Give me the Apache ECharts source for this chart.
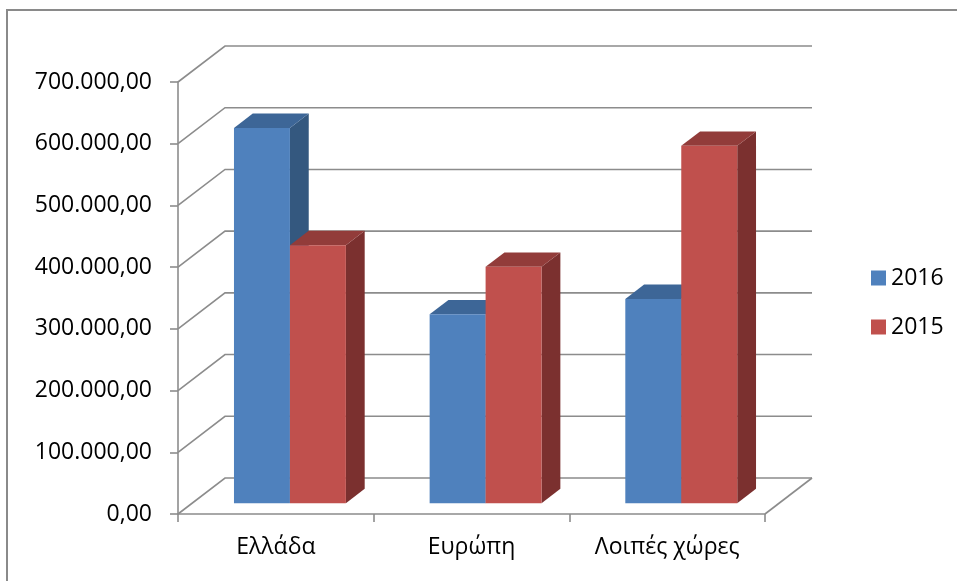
<!DOCTYPE html>
<html>
<head>
<meta charset="utf-8">
<script src="https://cdn.jsdelivr.net/npm/echarts@6/dist/echarts.min.js"></script>
<style>
  html, body { margin: 0; padding: 0; background: #fff; }
  #chart { width: 957px; height: 581px; }
</style>
</head>
<body>
<div id="chart"></div>
<script>
// Categories and series values
const categories = ['Ελλάδα', 'Ευρώπη', 'Λοιπές χώρες'];
const seriesNames = ['2016', '2015'];
const values2016 = [608000, 306000, 331000];
const values2015 = [418000, 383000, 579000];
const yTicks = [0, 100000, 200000, 300000, 400000, 500000, 600000, 700000];

// Oblique depth of the plot box (back plane offset from the front plane)
const DEPTH_X = 47;
const DEPTH_Y = -36;
// Bars occupy the middle of the depth
const BAR_FRONT = 0.3;
const BAR_BACK = 0.7;
const BAR_RATIO = 0.286;

const palette = [
  { front: '#4F81BD', top: '#3D6697', side: '#34587F' },
  { front: '#C0504D', top: '#923C3A', side: '#7B302F' }
];
const lineColor = '#8C8C8C';
const font = '"Open Sans", "Noto Sans", sans-serif';

function fmtNumber(v) {
  const s = Math.round(v).toString().replace(/\B(?=(\d{3})+(?!\d))/g, '.');
  return s + ',00';
}

// Back wall, side wall and floor outlines
function renderWalls(params, api) {
  const cs = params.coordSys;
  const v = api.value(0);
  const y = api.coord([0, v])[1];
  const x0 = cs.x;
  const x1 = cs.x + cs.width;
  const children = [{
    type: 'polyline',
    shape: { points: [[x0, y], [x0 + DEPTH_X, y + DEPTH_Y], [x1 + DEPTH_X, y + DEPTH_Y]] },
    style: { stroke: lineColor, lineWidth: 1.6, fill: null }
  }];
  if (v === 0) {
    children.push({
      type: 'line',
      shape: { x1: x1, y1: y, x2: x1 + DEPTH_X, y2: y + DEPTH_Y },
      style: { stroke: lineColor, lineWidth: 1.6 }
    });
  }
  return { type: 'group', children: children };
}

function makeBarRenderer(idx) {
  const col = palette[idx];
  return function (params, api) {
    const cat = api.value(0);
    const val = api.value(1);
    const top = api.coord([cat, val]);
    const base = api.coord([cat, 0]);
    const band = api.size([1, 0])[0];
    const bw = band * BAR_RATIO;
    const left = top[0] - bw + idx * bw;
    const fx = DEPTH_X * BAR_FRONT, fy = DEPTH_Y * BAR_FRONT;
    const bx = DEPTH_X * BAR_BACK, by = DEPTH_Y * BAR_BACK;
    const yT = top[1], yB = base[1];
    return {
      type: 'group',
      children: [
        {
          type: 'polygon',
          shape: { points: [
            [left + bw + fx, yT + fy], [left + bw + bx, yT + by],
            [left + bw + bx, yB + by], [left + bw + fx, yB + fy]
          ] },
          style: { fill: col.side }
        },
        {
          type: 'polygon',
          shape: { points: [
            [left + fx, yT + fy], [left + bw + fx, yT + fy],
            [left + bw + bx, yT + by], [left + bx, yT + by]
          ] },
          style: { fill: col.top }
        },
        {
          type: 'rect',
          shape: { x: left + fx, y: yT + fy, width: bw, height: yB - yT },
          style: { fill: col.front }
        }
      ]
    };
  };
}

const chart = echarts.init(document.getElementById('chart'), null, { renderer: 'canvas' });

chart.setOption({
  animation: false,
  backgroundColor: '#fff',
  graphic: [{
    type: 'rect',
    shape: { x: 7, y: 10, width: 980, height: 600 },
    style: { fill: null, stroke: '#8A8A8A', lineWidth: 2 },
    silent: true
  }],
  grid: { left: 178, top: 82, width: 587, height: 432 },
  legend: {
    orient: 'vertical',
    left: 866,
    top: 261,
    itemWidth: 15,
    itemHeight: 15,
    itemGap: 25,
    icon: 'rect',
    data: seriesNames,
    textStyle: { fontFamily: font, fontSize: 23, color: '#000', lineHeight: 24 }
  },
  xAxis: {
    type: 'category',
    data: categories,
    axisLine: { show: true, lineStyle: { color: lineColor, width: 1.6 } },
    axisTick: { show: true, length: 8, lineStyle: { color: lineColor, width: 1.6 } },
    axisLabel: { fontFamily: font, fontSize: 23, color: '#000', margin: 22 },
    splitLine: { show: false }
  },
  yAxis: {
    type: 'value',
    min: 0,
    max: 700000,
    interval: 100000,
    axisLine: { show: true, lineStyle: { color: lineColor, width: 1.6 } },
    axisTick: { show: true, length: 8, lineStyle: { color: lineColor, width: 1.6 } },
    axisLabel: { fontFamily: font, fontSize: 23, color: '#000', margin: 26, formatter: fmtNumber },
    splitLine: { show: false }
  },
  series: [
    {
      type: 'custom',
      name: 'walls',
      silent: true,
      renderItem: renderWalls,
      data: yTicks.map(v => [v]),
      encode: { y: 0 },
      z: 1
    },
    {
      type: 'custom',
      name: seriesNames[0],
      itemStyle: { color: palette[0].front },
      renderItem: makeBarRenderer(0),
      data: values2016.map((v, i) => [i, v]),
      encode: { x: 0, y: 1 },
      z: 2
    },
    {
      type: 'custom',
      name: seriesNames[1],
      itemStyle: { color: palette[1].front },
      renderItem: makeBarRenderer(1),
      data: values2015.map((v, i) => [i, v]),
      encode: { x: 0, y: 1 },
      z: 3
    }
  ]
});
</script>
</body>
</html>
